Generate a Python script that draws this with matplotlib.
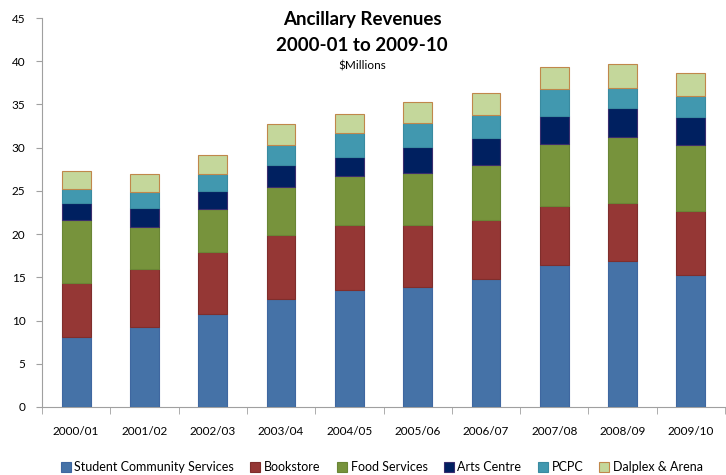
import numpy as np
import matplotlib.pyplot as plt

years = ["2000/01", "2001/02", "2002/03", "2003/04", "2004/05",
         "2005/06", "2006/07", "2007/08", "2008/09", "2009/10"]
series = ["Student Community Services", "Bookstore", "Food Services",
          "Arts Centre", "PCPC", "Dalplex & Arena"]

scs = [8.1, 9.3, 10.8, 12.45, 13.5, 13.85, 14.75, 16.45, 16.85, 15.25]
bookstore = [6.3, 6.65, 7.15, 7.45, 7.5, 7.15, 6.85, 6.8, 6.8, 7.45]
food = [7.25, 4.85, 4.9, 5.5, 5.7, 6.05, 6.45, 7.15, 7.6, 7.6]
arts = [1.9, 2.2, 2.15, 2.55, 2.2, 3.0, 3.05, 3.25, 3.35, 3.3]
pcpc = [1.65, 1.9, 2.0, 2.35, 2.8, 2.8, 2.7, 3.15, 2.35, 2.4]
dalplex = [2.05, 2.1, 2.2, 2.4, 2.25, 2.4, 2.5, 2.5, 2.75, 2.6]

values = [scs, bookstore, food, arts, pcpc, dalplex]
colors = ["#4572A7", "#953735", "#77933C", "#002060", "#4198AF", "#C4D79B"]
edges = ["#3F67A0", "#7F2E2C", "#6A8535", "#3A2E6E", "#3A8AA0", "#C0874B"]

plt.rcParams['font.family'] = ['Lato', 'DejaVu Sans']

fig = plt.figure(figsize=(7.26, 4.75), dpi=100)
ax = fig.add_axes([0.0579, 0.1432, 0.9407, 0.8188])

x = np.arange(len(years))
bottom = np.zeros(len(years))
for name, vals, c, ec in zip(series, values, colors, edges):
    ax.bar(x, vals, 0.42, bottom=bottom, color=c, edgecolor=ec,
           linewidth=0.8, label=name, zorder=3)
    bottom += np.array(vals)

ax.set_xlim(-0.5, len(years) - 0.5)
ax.set_ylim(0, 45)
ax.set_yticks(range(0, 46, 5))
ax.set_xticks(x)
ax.set_xticklabels(years)
ax.set_xticks(np.arange(-0.5, len(years), 1), minor=True)
ax.tick_params(axis='x', which='major', length=0, pad=14, labelsize=8.5)
ax.tick_params(axis='x', which='minor', length=5, color="#A0A0A0", direction='out')
ax.tick_params(axis='y', length=4, color="#A0A0A0", labelsize=8.5, pad=8)

for s in ["top", "right"]:
    ax.spines[s].set_visible(False)
for s in ["left", "bottom"]:
    ax.spines[s].set_color("#A0A0A0")

fig.text(0.4986, 0.958, "Ancillary Revenues", ha='center', va='center',
         fontsize=13.5, fontweight='bold')
fig.text(0.4986, 0.905, "2000-01 to 2009-10", ha='center', va='center',
         fontsize=13.5, fontweight='bold')
fig.text(0.4986, 0.861, "$Millions", ha='center', va='center', fontsize=8.5)

fig.legend(loc='center', bbox_to_anchor=(0.526, 0.016), ncol=6, frameon=False,
           fontsize=9, handlelength=0.8, handleheight=0.8,
           handletextpad=0.3, columnspacing=1.3)

plt.savefig("out.png", dpi=100)
